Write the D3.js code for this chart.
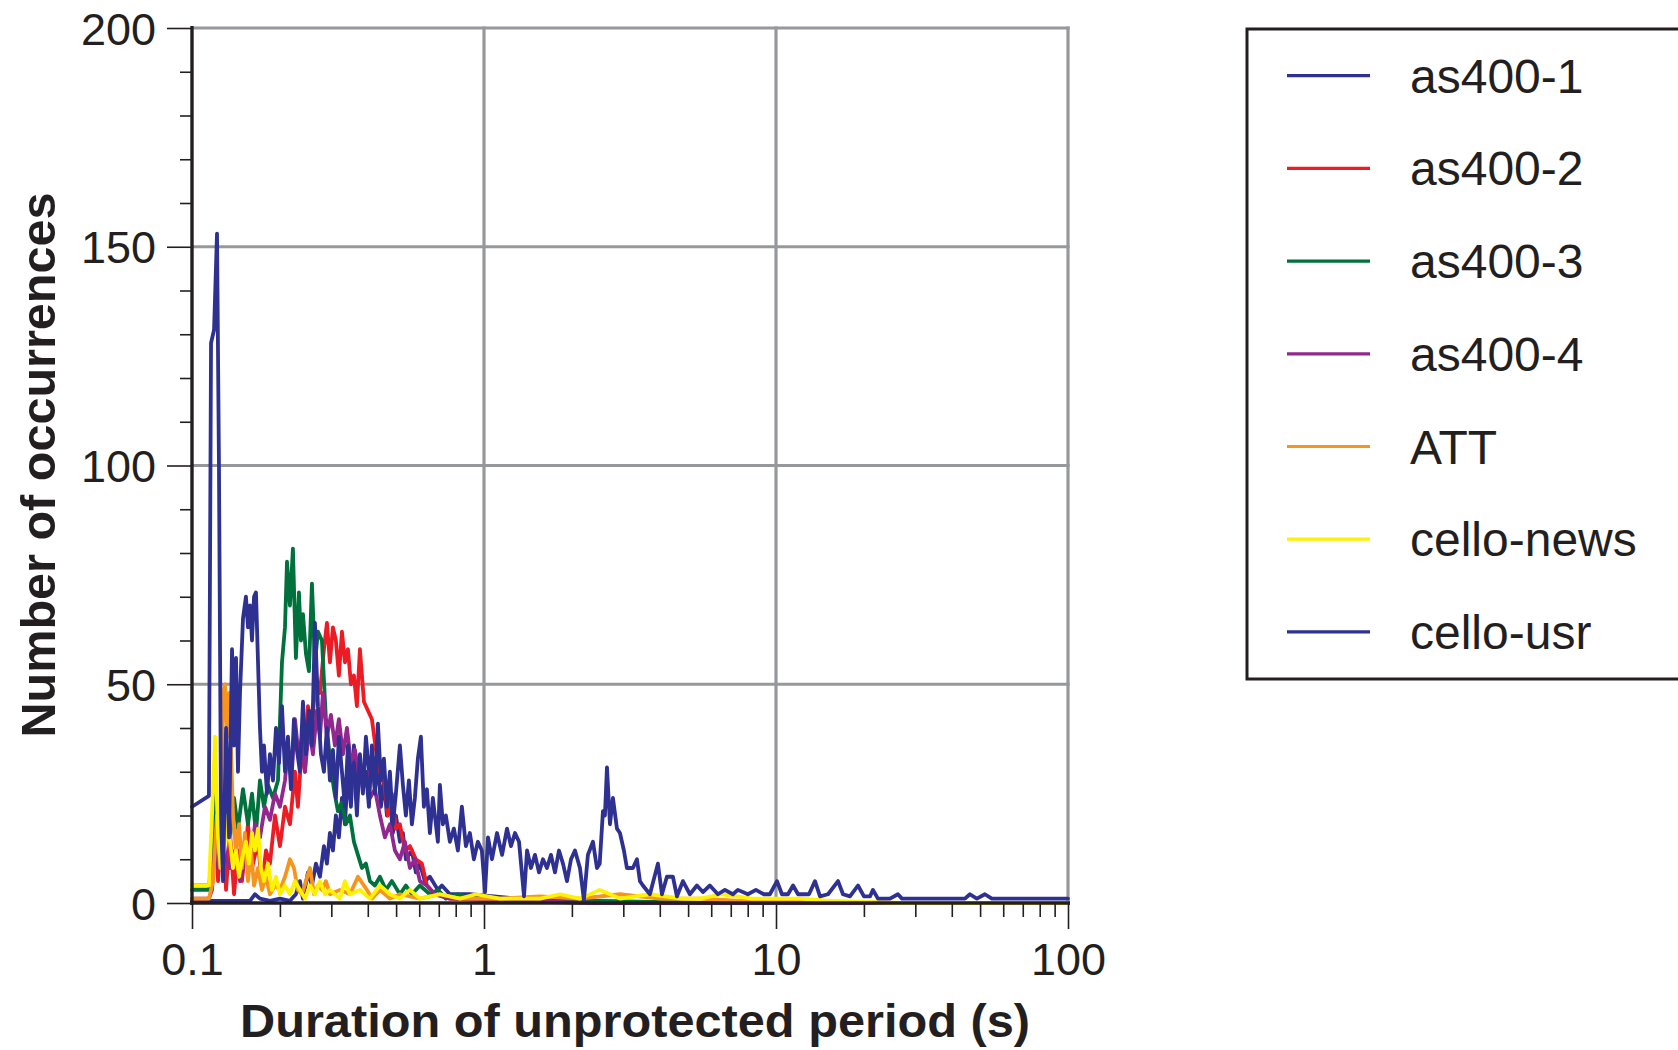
<!DOCTYPE html>
<html>
<head>
<meta charset="utf-8">
<script src="https://cdn.jsdelivr.net/npm/d3@7"></script>
<style>
body { margin: 0; background: #fff; }
svg { display: block; }
</style>
</head>
<body>
<svg id="chart" width="1678" height="1050"></svg>
<script>
// histogram of idle period durations
var seriesNames = ['as400-1', 'as400-2', 'as400-3', 'as400-4', 'ATT', 'cello-news', 'cello-usr'];
var seriesColors = ['#2e3192', '#ed1c24', '#00703c', '#92278f', '#f7941d', '#fff200', '#2e3192'];

var as400_1_t = [0.100, 0.158, 0.1643, 0.1709, 0.1849, 0.2001, 0.2165, 0.2269, 0.2342, 0.2399, 0.2495, 0.2575, 0.2657, 0.2743, 0.2830, 0.2898, 0.2967, 0.3038, 0.3110, 0.3185, 0.3262, 0.3340, 0.3420, 0.3502, 0.3585, 0.3671, 0.3759, 0.3849, 0.3941, 0.4036, 0.4132, 0.4231, 0.4332, 0.4436, 0.4542, 0.4651, 0.4762, 0.4875, 0.4992, 0.5152, 0.5275, 0.5401, 0.5663, 0.5844, 0.6032, 0.6274, 0.6527, 0.6951, 0.7174, 0.7641, 0.8946, 1.297, 1.821, 5.487, 100];
var as400_1_n = [0.5, 0.5, 2, 1, 0.5, 1, 0.5, 2, 5, 1, 7, 4, 9, 6, 13, 9, 16, 12, 20, 15, 24, 18, 30, 22, 36, 28, 33, 25, 38, 30, 34, 26, 32, 22, 28, 20, 24, 16, 20, 14, 16, 10, 12, 7, 9, 5, 6, 3, 4, 2, 2, 1, 0.5, 0, 0];

var as400_2_t = [0.100, 0.1143, 0.1171, 0.1199, 0.1228, 0.1267, 0.1308, 0.1350, 0.1393, 0.1437, 0.1483, 0.1555, 0.1605, 0.1683, 0.1736, 0.1792, 0.1849, 0.1924, 0.2001, 0.2082, 0.2165, 0.2252, 0.2305, 0.2380, 0.2437, 0.2495, 0.2575, 0.2657, 0.2743, 0.2830, 0.2898, 0.2967, 0.3038, 0.3110, 0.3185, 0.3262, 0.3340, 0.3420, 0.3502, 0.3585, 0.3671, 0.3759, 0.3880, 0.4004, 0.4132, 0.4264, 0.4401, 0.4542, 0.4687, 0.4837, 0.4992, 0.5152, 0.5359, 0.5575, 0.5844, 0.6128, 0.6374, 0.6789, 0.7641, 0.968, 1.328, 2.49, 100];
var as400_2_n = [4, 4, 8, 22, 5, 20, 3, 16, 2, 12, 5, 18, 8, 14, 4, 12, 9, 20, 13, 22, 18, 30, 22, 36, 30, 45, 40, 52, 48, 58, 64, 55, 63, 60, 52, 62, 55, 58, 50, 52, 45, 58, 46, 44, 42, 35, 30, 28, 20, 25, 17, 18, 12, 13, 10, 9, 4, 2, 1, 1, 0.5, 0, 0];

var as400_3_t = [0.100, 0.1143, 0.1171, 0.1199, 0.1218, 0.1247, 0.1297, 0.1350, 0.1393, 0.1437, 0.1495, 0.1555, 0.1605, 0.1656, 0.1709, 0.1764, 0.1820, 0.1894, 0.1970, 0.2033, 0.2082, 0.2115, 0.2165, 0.2216, 0.2269, 0.2324, 0.2361, 0.2399, 0.2456, 0.2515, 0.2575, 0.2637, 0.2700, 0.2786, 0.2875, 0.2967, 0.3062, 0.3160, 0.3262, 0.3366, 0.3474, 0.3585, 0.3700, 0.3819, 0.3941, 0.4068, 0.4231, 0.4401, 0.4614, 0.4837, 0.5152, 0.5401, 0.5663, 0.6032, 0.6527, 0.6951, 0.7404, 0.8138, 0.8946, 1.048, 1.328, 2.49, 5.49, 100];
var as400_3_n = [3, 3, 12, 30, 20, 10, 22, 15, 24, 17, 26, 18, 25, 16, 28, 22, 27, 24, 28, 55, 63, 78, 68, 81, 56, 71, 60, 66, 57, 53, 73, 55, 62, 60, 42, 33, 26, 21, 23, 18, 20, 14, 11, 8, 9, 5, 4, 6, 3, 5, 2, 4, 2, 4, 2, 3, 1, 2, 1, 1, 0.5, 0.5, 0, 0];

var as400_4_t = [0.100, 0.1143, 0.1171, 0.1199, 0.1228, 0.1267, 0.1308, 0.1350, 0.1404, 0.1460, 0.1518, 0.1580, 0.1643, 0.1709, 0.1778, 0.1849, 0.1924, 0.2001, 0.2082, 0.2131, 0.2199, 0.2252, 0.2324, 0.2380, 0.2437, 0.2515, 0.2595, 0.2679, 0.2743, 0.2808, 0.2898, 0.2991, 0.3086, 0.3185, 0.3288, 0.3393, 0.3502, 0.3613, 0.3759, 0.3973, 0.4068, 0.4231, 0.4401, 0.4578, 0.4762, 0.4953, 0.5152, 0.5359, 0.5575, 0.5798, 0.6032, 0.6374, 0.6789, 0.7641, 1.134, 2.49, 100];
var as400_4_n = [1, 1, 3, 14, 8, 17, 10, 8, 12, 5, 10, 8, 18, 15, 22, 19, 25, 22, 28, 35, 30, 42, 33, 38, 30, 40, 34, 44, 38, 48, 38, 43, 36, 42, 34, 40, 32, 35, 28, 30, 24, 26, 20, 15, 18, 12, 10, 14, 8, 10, 5, 4, 2, 1, 0.5, 0, 0];

var att_t = [0.100, 0.1143, 0.1180, 0.1218, 0.1247, 0.1277, 0.1297, 0.1318, 0.1339, 0.1360, 0.1382, 0.1415, 0.1449, 0.1483, 0.1518, 0.1555, 0.1592, 0.1631, 0.1683, 0.1736, 0.1792, 0.1849, 0.1924, 0.2001, 0.2082, 0.2165, 0.2234, 0.2305, 0.2380, 0.2456, 0.2535, 0.2616, 0.2700, 0.2786, 0.2875, 0.2967, 0.3211, 0.3474, 0.3700, 0.3973, 0.4132, 0.4401, 0.4762, 0.5152, 0.6032, 0.7062, 0.8268, 1.134, 1.555, 2.131, 2.921, 4.004, 5.487, 7.521, 12.08, 26.57, 100];
var att_n = [1, 1, 5, 20, 8, 48, 50, 38, 48, 35, 20, 12, 18, 8, 16, 5, 12, 4, 8, 3, 6, 2, 4, 3, 6, 10, 8, 3, 2, 5, 8, 2, 4, 3, 5, 2, 3, 2, 6, 3, 1, 3, 1, 2, 1, 2, 1, 1, 1.5, 1, 2, 1, 1, 0.5, 0.5, 0, 0];

var cello_news_t = [0.100, 0.1143, 0.1171, 0.1199, 0.1228, 0.1257, 0.1287, 0.1318, 0.1350, 0.1382, 0.1415, 0.1449, 0.1483, 0.1530, 0.1567, 0.1605, 0.1643, 0.1683, 0.1722, 0.1764, 0.1820, 0.1879, 0.1939, 0.2001, 0.2082, 0.2165, 0.2252, 0.2342, 0.2437, 0.2535, 0.2637, 0.2743, 0.2853, 0.2967, 0.3211, 0.3340, 0.3474, 0.3759, 0.4068, 0.4401, 0.4762, 0.5152, 0.5575, 0.6032, 0.7062, 0.8268, 0.9379, 1.134, 1.328, 1.555, 1.821, 2.131, 2.49, 2.700, 2.921, 3.700, 4.762, 5.487, 6.527, 8.267, 12.08, 15.30, 26.57, 42.65, 100];
var cello_news_n = [4, 4, 20, 38, 15, 8, 12, 20, 14, 8, 12, 6, 10, 14, 9, 16, 12, 17, 8, 5, 9, 3, 6, 2, 4, 2, 5, 3, 1, 4, 2, 5, 2, 3, 1, 5, 2, 3, 1, 4, 2, 1, 3, 1, 2, 1, 2, 1, 1, 1, 2, 1, 3, 2, 1, 2, 1, 1, 2, 1, 1, 0.5, 0, 0, 0];

var cello_usr_t = [0.100, 0.1143, 0.1162, 0.1190, 0.1218, 0.1237, 0.1257, 0.1277, 0.1308, 0.1339, 0.1371, 0.1393, 0.1415, 0.1437, 0.1460, 0.1495, 0.1530, 0.1555, 0.1580, 0.1605, 0.1631, 0.1656, 0.1683, 0.1709, 0.1736, 0.1764, 0.1806, 0.1849, 0.1894, 0.1939, 0.1986, 0.2033, 0.2082, 0.2131, 0.2182, 0.2234, 0.2287, 0.2342, 0.2399, 0.2456, 0.2515, 0.2575, 0.2637, 0.2700, 0.2764, 0.2830, 0.2898, 0.2967, 0.3038, 0.3110, 0.3185, 0.3262, 0.3340, 0.3420, 0.3502, 0.3585, 0.3671, 0.3759, 0.3849, 0.3941, 0.4036, 0.4132, 0.4231, 0.4332, 0.4436, 0.4542, 0.4651, 0.4762, 0.4875, 0.4992, 0.5152, 0.5275, 0.5401, 0.5531, 0.5663, 0.5798, 0.5937, 0.6080, 0.6225, 0.6374, 0.6527, 0.6682, 0.6951, 0.7062, 0.7231, 0.7404, 0.7641, 0.7886, 0.8138, 0.8399, 0.8668, 0.8946, 0.9232, 0.9528, 0.9833, 1.008, 1.032, 1.065, 1.108, 1.153, 1.199, 1.237, 1.277, 1.318, 1.371, 1.404, 1.448, 1.495, 1.543, 1.592, 1.643, 1.696, 1.750, 1.806, 1.864, 1.924, 1.986, 2.049, 2.131, 2.199, 2.269, 2.361, 2.437, 2.49, 2.555, 2.595, 2.637, 2.700, 2.764, 2.853, 2.921, 3.014, 3.086, 3.236, 3.340, 3.420, 3.501, 3.700, 3.941, 4.068, 4.231, 4.436, 4.578, 4.799, 5.071, 5.359, 5.618, 5.937, 6.324, 6.682, 7.118, 7.404, 8.010, 8.533, 9.088, 9.528, 10.08, 10.48, 10.99, 11.44, 11.90, 12.57, 12.97, 13.60, 14.15, 15.07, 16.31, 16.96, 17.92, 19.09, 20.01, 20.98, 21.48, 22.34, 24.56, 26.16, 27.00, 44.36, 46.14, 48.75, 51.93, 54.87, 100];
var cello_usr_n = [22, 24.5, 128, 131, 153, 100, 20, 5, 40, 15, 58, 36, 56, 30, 48, 65, 70, 63, 68, 60, 70, 71, 55, 40, 30, 36, 25, 34, 28, 40, 32, 45, 30, 38, 26, 42, 35, 30, 46, 34, 44, 36, 64, 45, 34, 30, 40, 28, 35, 24, 38, 30, 22, 36, 28, 32, 20, 34, 26, 30, 22, 36, 25, 41, 28, 33, 22, 30, 18, 25, 36, 27, 20, 28, 18, 24, 33, 38, 22, 26, 16, 24, 14, 27, 18, 20, 14, 17, 12, 22, 13, 16, 10, 14, 12, 2.5, 15, 10, 16, 11, 17, 13, 16, 14, 1.5, 12, 8, 11, 7, 10, 8, 11, 7, 12, 9, 5, 10, 12, 8, 0.7, 11, 14, 8, 9, 21, 20, 31, 18, 24, 17, 16, 12, 8, 8, 10, 5, 4, 2, 9, 2, 6, 6, 1.5, 5, 2, 4, 2.5, 4, 2, 3, 2, 3, 2, 3, 2, 2, 5, 2, 2, 4, 2, 2, 2, 5, 1.5, 2, 5, 2, 1.5, 4, 1.5, 1.5, 3, 1, 1, 2, 1, 1, 2, 1, 2, 1, 1];

var seriesT = [as400_1_t, as400_2_t, as400_3_t, as400_4_t, att_t, cello_news_t, cello_usr_t];
var seriesN = [as400_1_n, as400_2_n, as400_3_n, as400_4_n, att_n, cello_news_n, cello_usr_n];

var yMajor = [0, 50, 100, 150, 200];
var yMinor = [10, 20, 30, 40, 60, 70, 80, 90, 110, 120, 130, 140, 160, 170, 180, 190];
var xMajor = [0.1, 1, 10, 100];
var xMajorLabels = ['0.1', '1', '10', '100'];
var xMinor = [0.2, 0.3, 0.4, 0.5, 0.6, 0.7, 0.8, 0.9, 2, 3, 4, 5, 6, 7, 8, 9, 20, 30, 40, 50, 60, 70, 80, 90];

var ink = '#231f20';
var font = '"Liberation Sans", Arial, Helvetica, sans-serif';

var svg = d3.select('#chart');
svg.append('rect').attr('width', 1678).attr('height', 1050).attr('fill', '#fff');

var x = d3.scaleLog().domain([0.1, 100]).range([192, 1068]);
var y = d3.scaleLinear().domain([0, 200]).range([903, 28]);

// grid
var grid = svg.append('g');
grid.selectAll('.vgrid')
    .data([1, 10, 100])
    .enter().append('line')
    .attr('x1', function(d) { return x(d); })
    .attr('x2', function(d) { return x(d); })
    .attr('y1', y(200) - 1.6)
    .attr('y2', y(0))
    .style('stroke', '#97989b')
    .style('stroke-width', 3.2);
grid.selectAll('.hgrid')
    .data([50, 100, 150, 200])
    .enter().append('line')
    .attr('x1', x(0.1))
    .attr('x2', x(100) + 1.6)
    .attr('y1', function(d) { return y(d); })
    .attr('y2', function(d) { return y(d); })
    .style('stroke', '#97989b')
    .style('stroke-width', 3.2);

// data lines
var line = d3.line()
    .x(function(d) { return x(d[0]); })
    .y(function(d) { return y(d[1]); });

svg.append('g').selectAll('path')
    .data(seriesNames)
    .enter().append('path')
    .attr('d', function(d, i) {
        return line(d3.zip(seriesT[i], seriesN[i]));
    })
    .style('fill', 'none')
    .style('stroke', function(d, i) { return seriesColors[i]; })
    .style('stroke-width', 3.8)
    .style('stroke-linejoin', 'round')
    .style('stroke-linecap', 'round');

// axes
var yAxisMinor = d3.axisLeft(y).tickValues(yMinor).tickSize(12).tickFormat('');
var yAxisMajor = d3.axisLeft(y).tickValues(yMajor).tickSize(25).tickPadding(11);
var xAxisMinor = d3.axisBottom(x).tickValues(xMinor).tickSize(14).tickFormat('');
var xAxisMajor = d3.axisBottom(x).tickValues(xMajor).tickSize(26).tickPadding(14)
    .tickFormat(function(d, i) { return xMajorLabels[i]; });

var gy1 = svg.append('g').attr('transform', 'translate(192,0)').call(yAxisMinor);
var gy2 = svg.append('g').attr('transform', 'translate(192,0)').call(yAxisMajor);
var gx1 = svg.append('g').attr('transform', 'translate(0,903)').call(xAxisMinor);
var gx2 = svg.append('g').attr('transform', 'translate(0,903)').call(xAxisMajor);

[gy1, gy2, gx1, gx2].forEach(function(g) {
    g.select('.domain').remove();
    g.selectAll('.tick line').style('stroke', ink).style('stroke-width', 1.6);
    g.selectAll('.tick text')
        .style('font-family', font)
        .style('font-size', '45px')
        .style('fill', ink);
});
gy2.selectAll('.tick text').attr('dy', '0.36em');
gx2.selectAll('.tick text').attr('dy', '0.72em');

svg.append('line')
    .attr('x1', 192).attr('x2', 192)
    .attr('y1', y(200) - 2).attr('y2', 905)
    .style('stroke', ink).style('stroke-width', 3.4);
svg.append('line')
    .attr('x1', 190).attr('x2', 1070)
    .attr('y1', 903).attr('y2', 903)
    .style('stroke', ink).style('stroke-width', 3.6);

// axis titles
svg.append('text')
    .attr('x', 635).attr('y', 1037)
    .attr('text-anchor', 'middle')
    .attr('textLength', 790)
    .attr('lengthAdjust', 'spacingAndGlyphs')
    .style('font-family', font)
    .style('font-weight', 'bold')
    .style('font-size', '47px')
    .style('fill', ink)
    .text('Duration of unprotected period (s)');

svg.append('text')
    .attr('transform', 'translate(55,465) rotate(-90)')
    .attr('text-anchor', 'middle')
    .attr('textLength', 545)
    .attr('lengthAdjust', 'spacingAndGlyphs')
    .style('font-family', font)
    .style('font-weight', 'bold')
    .style('font-size', '49px')
    .style('fill', ink)
    .text('Number of occurrences');

// legend
var legend = svg.append('g');
legend.append('rect')
    .attr('x', 1247).attr('y', 29)
    .attr('width', 480).attr('height', 650)
    .style('fill', '#fff')
    .style('stroke', ink)
    .style('stroke-width', 3);

var rows = legend.selectAll('.row')
    .data(seriesNames)
    .enter().append('g')
    .attr('transform', function(d, i) { return 'translate(0,' + (75.7 + i * 92.7) + ')'; });
rows.append('line')
    .attr('x1', 1287).attr('x2', 1370)
    .style('stroke', function(d, i) { return seriesColors[i]; })
    .style('stroke-width', 3.2);
rows.append('text')
    .attr('x', 1410).attr('y', 17)
    .style('font-family', font)
    .style('font-size', '48px')
    .style('fill', ink)
    .text(function(d) { return d; });
</script>
</body>
</html>
